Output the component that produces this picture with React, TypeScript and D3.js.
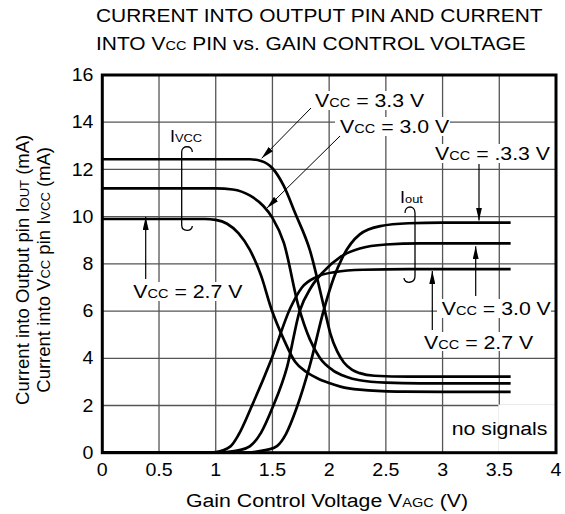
import React from "react";
import * as d3 from "d3";

// ---------- data ----------
const X_TICKS = [0, 0.5, 1, 1.5, 2, 2.5, 3, 3.5, 4];
const X_TICK_LABELS = ["0", "0.5", "1", "1.5", "2", "2.5", "3", "3.5", "4"];
const Y_TICKS = [0, 2, 4, 6, 8, 10, 12, 14, 16];
const Y_TICK_LABELS = ["0", "2", "4", "6", "8", "10", "12", "14", "16"];

// Ivcc curves [Vagc, mA]
const ivcc33: [number, number][] = [
  [0, 12.43], [1.3, 12.43], [1.4, 12.36], [1.5, 12.05], [1.6, 11.3], [1.7, 10.15],
  [1.83, 8.58], [1.96, 6.05], [2.01, 5.06], [2.07, 4.3], [2.13, 3.82], [2.2, 3.52],
  [2.27, 3.37], [2.4, 3.26], [2.7, 3.22], [3.6, 3.22],
];
const ivcc30: [number, number][] = [
  [0, 11.2], [1.0, 11.2], [1.15, 11.15], [1.3, 10.9], [1.42, 10.45], [1.5, 9.95],
  [1.6, 8.9], [1.73, 6.2], [1.83, 4.8], [1.92, 4.0], [2.03, 3.5], [2.15, 3.22],
  [2.27, 3.07], [2.5, 2.97], [2.8, 2.94], [3.6, 2.94],
];
const ivcc27: [number, number][] = [
  [0, 9.9], [0.9, 9.9], [1.0, 9.86], [1.1, 9.7], [1.2, 9.3], [1.3, 8.6], [1.4, 7.5],
  [1.49, 6.1], [1.6, 4.8], [1.7, 3.85], [1.8, 3.42], [1.9, 3.14], [2.0, 2.95],
  [2.1, 2.8], [2.27, 2.67], [2.6, 2.59], [3.0, 2.58], [3.6, 2.58],
];
// Iout curves
const iout33: [number, number][] = [
  [0, 0], [1.25, 0], [1.35, 0.04], [1.45, 0.12], [1.54, 0.28], [1.62, 0.8], [1.71, 1.85],
  [1.83, 3.7], [1.95, 6.0], [2.04, 7.4], [2.12, 8.3], [2.27, 9.25], [2.45, 9.6],
  [2.7, 9.72], [3.0, 9.75], [3.6, 9.75],
];
const iout30: [number, number][] = [
  [0, 0], [1.0, 0], [1.1, 0.03], [1.2, 0.1], [1.3, 0.27], [1.4, 0.85], [1.5, 1.9],
  [1.63, 3.65], [1.74, 6.0], [1.84, 7.0], [1.95, 7.67], [2.1, 8.3], [2.27, 8.65],
  [2.5, 8.82], [2.8, 8.87], [3.6, 8.87],
];
const iout27: [number, number][] = [
  [0, 0], [0.9, 0], [1.0, 0.03], [1.13, 0.27], [1.2, 0.75], [1.32, 2.0], [1.49, 3.95],
  [1.66, 6.15], [1.76, 7.0], [1.89, 7.45], [2.05, 7.65], [2.3, 7.75], [2.7, 7.78],
  [3.6, 7.78],
];
const SERIES = [ivcc33, ivcc30, ivcc27, iout33, iout30, iout27];

// ---------- layout ----------
const W = 565, H = 514;
const PL = 102.3, PR = 556, PT = 75, PB = 452.7;
const FONT = "'Liberation Sans', Arial, Helvetica, sans-serif";
const SX = 1.12;

const x = d3.scaleLinear().domain([0, 4]).range([PL, PR]);
const y = d3.scaleLinear().domain([0, 16]).range([PB, PT]);
const line = d3.line<[number, number]>().x(d => x(d[0])).y(d => y(d[1])).curve(d3.curveMonotoneX);

function T({ x: tx, y: ty, size, anchor = "start", children }: any) {
  return (
    <text transform={`translate(${tx},${ty}) scale(${SX},1)`} fontSize={size} textAnchor={anchor}
      fontFamily={FONT} fill="#000">{children}</text>
  );
}

function VccLabel({ lx, ly, val }: { lx: number; ly: number; val: string }) {
  return (
    <T x={lx} y={ly} size={19}>V<tspan fontSize={13}>CC</tspan>{` = ${val} V`}</T>
  );
}

export default function App() {
  const gridColor = "#555";
  const cy = (PT + PB) / 2 + 6;
  return (
    <svg width={W} height={H} style={{ position: "absolute", left: 0, top: 0, background: "#fff" }}>
      <defs>
        <marker id="ah" viewBox="0 0 13 6" refX={13} refY={3} markerWidth={13} markerHeight={6}
          orient="auto" markerUnits="userSpaceOnUse">
          <path d="M0,0 L13,3 L0,6 Z" fill="#000" />
        </marker>
      </defs>
      <rect width={W} height={H} fill="#fff" />

      {/* title */}
      <T x={96} y={22.4} size={18.7}>CURRENT INTO OUTPUT PIN AND CURRENT</T>
      <T x={96} y={49.8} size={18.7}>INTO V<tspan fontSize={13}>CC</tspan> PIN vs. GAIN CONTROL VOLTAGE</T>

      {/* grid */}
      {X_TICKS.slice(1, -1).map(t => (
        <line key={"gx" + t} x1={x(t)} x2={x(t)} y1={PT} y2={PB} stroke={gridColor} strokeWidth={1.3} />
      ))}
      {Y_TICKS.slice(1, -1).map(t => (
        <line key={"gy" + t} x1={PL} x2={PR} y1={y(t)} y2={y(t)} stroke={gridColor} strokeWidth={1.3} />
      ))}
      {/* "no signals" cell cleared */}
      <rect x={x(3.5) - 1} y={y(2) - 1} width={PR - x(3.5)} height={PB - y(2)} fill="#fff" />

      {/* label backgrounds */}
      <rect x={312} y={91} width={112} height={19} fill="#fff" />
      <rect x={335} y={117} width={115} height={19} fill="#fff" />
      <rect x={432} y={144} width={118} height={19} fill="#fff" />
      <rect x={437} y={299} width={114} height={19} fill="#fff" />
      <rect x={420} y={332} width={113} height={19} fill="#fff" />
      <rect x={130} y={282} width={113} height={19} fill="#fff" />

      {/* curves */}
      {SERIES.map((s, i) => (
        <path key={"s" + i} d={line(s) || ""} fill="none" stroke="#000" strokeWidth={2.7} />
      ))}

      {/* frame */}
      <rect x={PL} y={PT} width={PR - PL} height={PB - PT} fill="none" stroke="#000" strokeWidth={3} />

      {/* tick labels */}
      {Y_TICKS.map((t, i) => (
        <T key={"yl" + t} x={93.5} y={y(t) + 6.2} size={17.5} anchor="end">{Y_TICK_LABELS[i]}</T>
      ))}
      {X_TICKS.map((t, i) => (
        <T key={"xl" + t} x={x(t)} y={476} size={17.5} anchor="middle">{X_TICK_LABELS[i]}</T>
      ))}

      {/* axis titles */}
      <T x={186} y={507} size={19}>Gain Control Voltage V<tspan fontSize={13}>AGC</tspan>{"  (V)"}</T>
      <text transform={`translate(29,${cy}) rotate(-90)`} fontSize={18.5}
        textAnchor="middle" fontFamily={FONT}>Current into Output pin I<tspan fontSize={13}>OUT</tspan>{"  (mA)"}</text>
      <text transform={`translate(49.5,${cy}) rotate(-90)`} fontSize={18.5}
        textAnchor="middle" fontFamily={FONT}>Current into V<tspan fontSize={13}>CC</tspan> pin I<tspan fontSize={13}>VCC</tspan>{"  (mA)"}</text>

      {/* annotations */}
      <VccLabel lx={315} ly={106.7} val="3.3" />
      <line x1={311} y1={108} x2={x(1.405)} y2={y(12.47)} stroke="#000" strokeWidth={1} markerEnd="url(#ah)" />
      <VccLabel lx={340} ly={133.3} val="3.0" />
      <line x1={340} y1={136} x2={x(1.45)} y2={y(10.36)} stroke="#000" strokeWidth={1} markerEnd="url(#ah)" />
      <VccLabel lx={435} ly={160} val=".3.3" />
      <line x1={479} y1={164} x2={479} y2={y(9.75) - 2} stroke="#000" strokeWidth={1.2} markerEnd="url(#ah)" />
      <VccLabel lx={441.7} ly={315} val="3.0" />
      <line x1={475.7} y1={296} x2={475.7} y2={y(8.87) + 3} stroke="#000" strokeWidth={1.2} markerEnd="url(#ah)" />
      <VccLabel lx={424} ly={348.5} val="2.7" />
      <line x1={432.3} y1={330} x2={432.3} y2={y(7.78) + 2} stroke="#000" strokeWidth={1.2} markerEnd="url(#ah)" />
      <VccLabel lx={133.3} ly={298.3} val="2.7" />
      <line x1={145.7} y1={279} x2={145.7} y2={y(9.9) - 2} stroke="#000" strokeWidth={1.2} markerEnd="url(#ah)" />

      {/* I labels with braces */}
      <T x={170} y={141.7} size={16}>I<tspan fontSize={11.5}>VCC</tspan></T>
      <path d="M181.7,225 L181.7,152 C181.7,145 192.3,145 192.3,152 M181.7,225 C181.7,232 192.3,232 192.3,226"
        fill="none" stroke="#000" strokeWidth={1.3} />
      <T x={400} y={203.3} size={16}>I<tspan fontSize={11.5}>out</tspan></T>
      <path d="M415,276 L415,213 C415,205 405,205 405,213 M415,276 C415,284 404,284 404,278"
        fill="none" stroke="#000" strokeWidth={1.3} />

      <T x={451.7} y={435} size={19}>no signals</T>
    </svg>
  );
}
